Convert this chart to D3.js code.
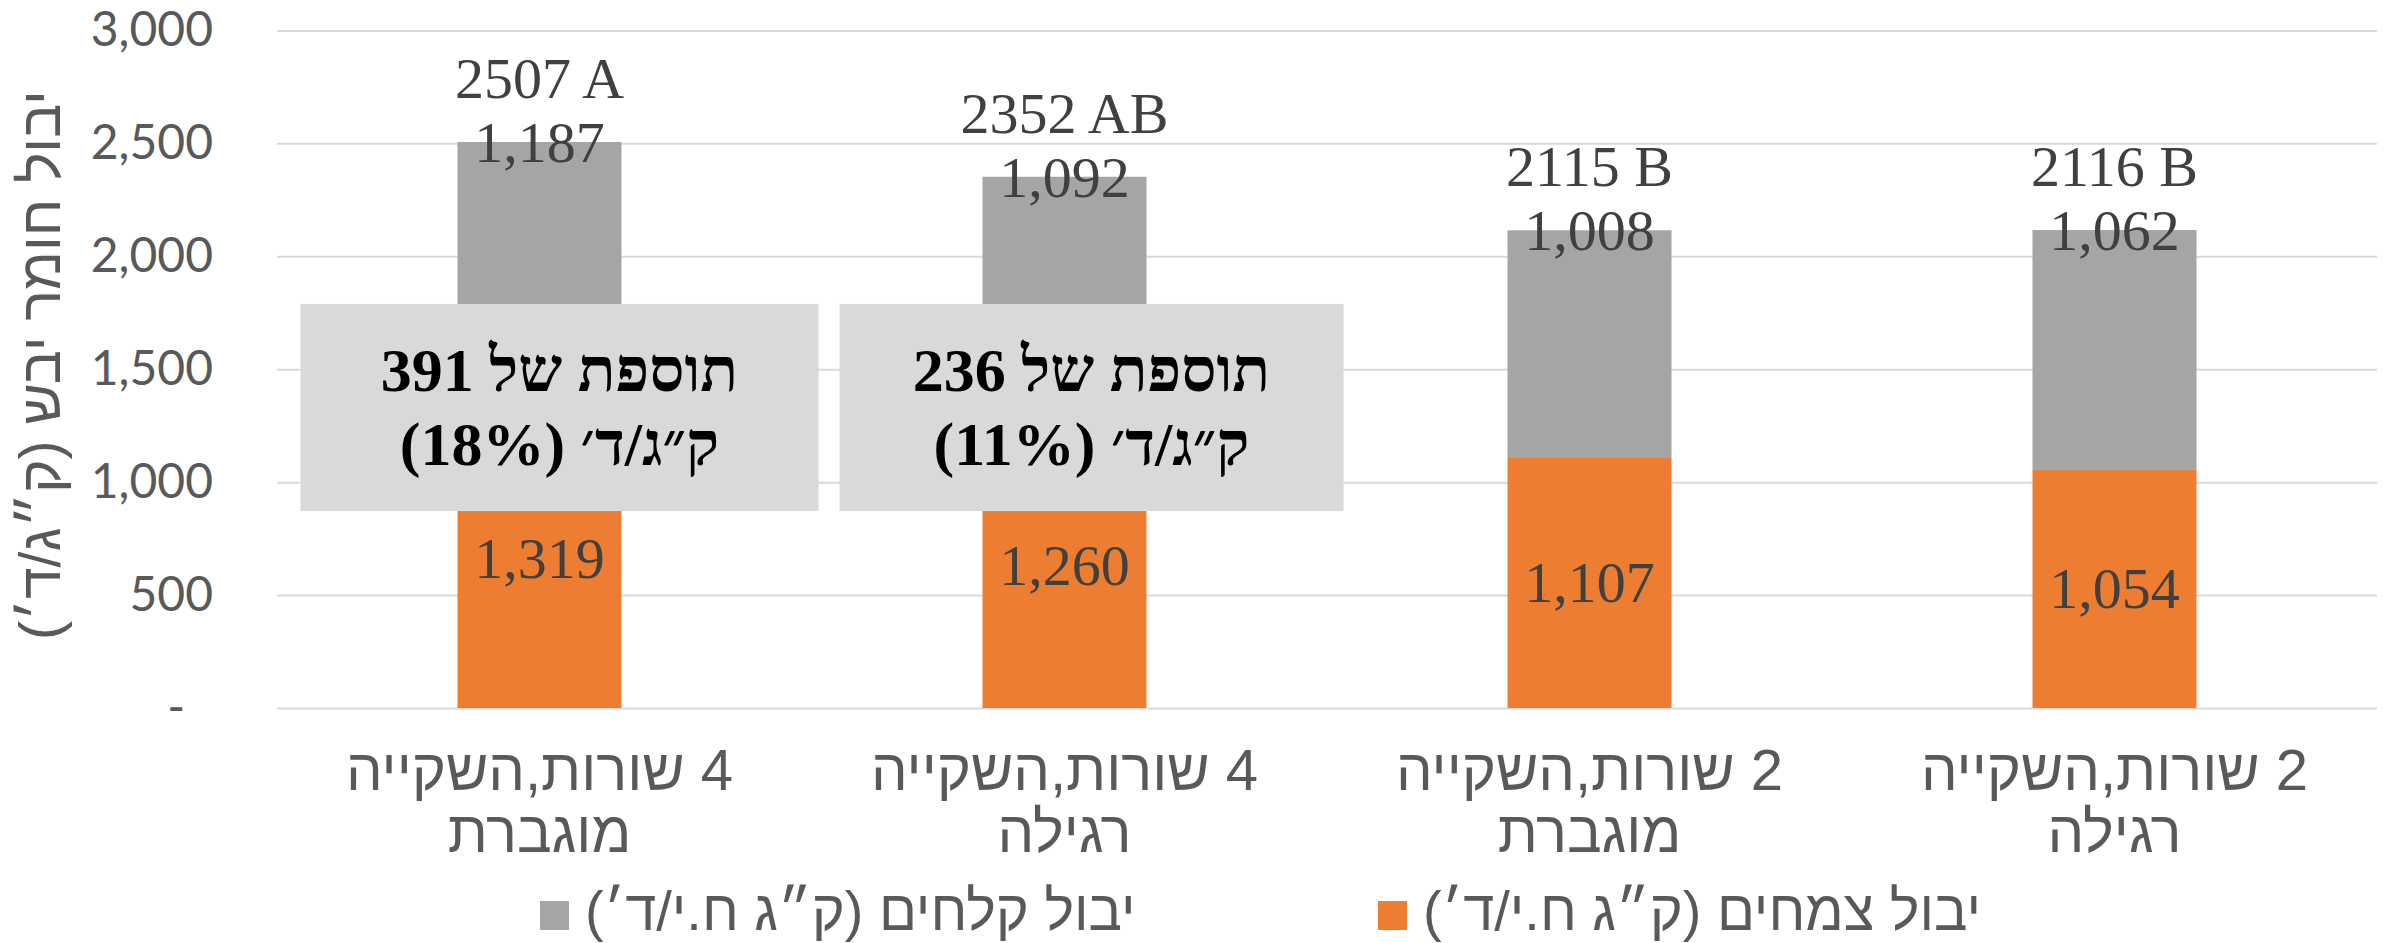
<!DOCTYPE html>
<html><head><meta charset="utf-8">
<script src="https://cdn.jsdelivr.net/npm/d3@7"></script>
<style>html,body{margin:0;padding:0;background:#fff;} svg{display:block;}</style>
</head><body>
<svg id="chart" width="2387" height="943"></svg>
<script>
const categories = ["4 שורות,השקייה\nמוגברת", "4 שורות,השקייה\nרגילה", "2 שורות,השקייה\nמוגברת", "2 שורות,השקייה\nרגילה"];
const plantYield = [1319, 1260, 1107, 1054];
const earYield = [1187, 1092, 1008, 1062];
const totals = [2507, 2352, 2115, 2116];
const groupLetters = ["A", "AB", "B", "B"];
const yTicks = [0, 500, 1000, 1500, 2000, 2500, 3000];
const seriesNames = ["יבול צמחים (ק״ג ח.י/ד׳)", "יבול קלחים (ק״ג ח.י/ד׳)"];
const annotationLines = [["תוספת של 391", "ק״ג/ד׳ (18%)"], ["תוספת של 236", "ק״ג/ד׳ (11%)"]];
const yTitle = "יבול חומר יבש (ק״ג/ד׳)";

const W = 2387, H = 943;
const plotLeft = 277, plotRight = 2377, plotTop = 30.4, plotBottom = 708;
const colors = {plants: "#ED7D31", ears: "#A5A5A5"};
const serif = "'Liberation Serif', 'Times New Roman', serif";
const sans = "'Liberation Sans', Arial, sans-serif";

const svg = d3.select("#chart");
svg.append("rect").attr("width", W).attr("height", H).attr("fill", "#fff");

const x = d3.scaleBand().domain(categories).range([plotLeft, plotRight])
  .paddingInner(0.6876).paddingOuter(0.3438);
const y = d3.scaleLinear().domain([0, 3000]).range([plotBottom, plotTop]);

// grid + y axis
const yAxis = d3.axisLeft(y).tickValues(yTicks)
  .tickSize(-(plotRight - plotLeft)).tickPadding(64)
  .tickFormat(d => d === 0 ? "-" : d3.format(",")(d));
const gy = svg.append("g").attr("transform", `translate(${plotLeft},0)`).call(yAxis);
gy.select(".domain").remove();
gy.selectAll(".tick line").attr("stroke", "#D9D9D9").attr("stroke-width", 2);
gy.selectAll(".tick text").attr("fill", "#595959")
  .style("font-family", "Lato, 'Open Sans', sans-serif").style("font-size", "48px")
  .attr("dx", d => d === 0 ? -28 : 0);

// stacked bars
const rows = categories.map((c, i) => ({cat: c, plants: plantYield[i], ears: earYield[i]}));
const stack = d3.stack().keys(["plants", "ears"])(rows);
svg.append("g").selectAll("g").data(stack).join("g")
  .attr("fill", s => colors[s.key])
  .selectAll("rect").data(s => s).join("rect")
  .attr("x", d => x(d.data.cat))
  .attr("width", x.bandwidth())
  .attr("y", d => y(d[1]))
  .attr("height", d => y(d[0]) - y(d[1]));

const fmt = d3.format(",");
const labelStyle = sel => sel.attr("text-anchor", "middle").attr("fill", "#404040")
  .style("font-family", serif).style("font-size", "58px");

// orange labels (centered in segment)
svg.append("g").selectAll("text").data(stack[0]).join("text").call(labelStyle)
  .attr("x", d => x(d.data.cat) + x.bandwidth() / 2)
  .attr("y", d => (y(d[0]) + y(d[1])) / 2 + 19)
  .text(d => fmt(d[1] - d[0]));
// gray labels (at top of bar)
svg.append("g").selectAll("text").data(stack[1]).join("text").call(labelStyle)
  .attr("x", d => x(d.data.cat) + x.bandwidth() / 2)
  .attr("y", d => y(d[1]) + 20)
  .text(d => fmt(d[1] - d[0]));
// totals
svg.append("g").selectAll("text").data(categories).join("text").call(labelStyle)
  .attr("x", c => x(c) + x.bandwidth() / 2)
  .attr("y", (c, i) => y(totals[i]) - 44)
  .text((c, i) => `${totals[i]} ${groupLetters[i]}`);

// annotation boxes
const boxSpecs = [{i: 0, left: -239, right: 279}, {i: 1, left: -225, right: 279}];
const boxTop = y(1789), boxBottom = y(872);
boxSpecs.forEach((b, k) => {
  const cx = x(categories[b.i]) + x.bandwidth() / 2;
  const g = svg.append("g");
  g.append("rect").attr("x", cx + b.left).attr("width", b.right - b.left)
    .attr("y", boxTop).attr("height", boxBottom - boxTop).attr("fill", "#D9D9D9");
  const mid = cx + (b.left + b.right) / 2;
  const yc = (boxTop + boxBottom) / 2;
  annotationLines[k].forEach((line, j) => {
    g.append("text").attr("x", mid).attr("y", yc - 16 + j * 74)
      .attr("text-anchor", "middle").attr("fill", "#000")
      .style("direction", "rtl").style("font-family", serif)
      .style("font-weight", "bold").style("font-size", "62px").text(line);
  });
});

// x labels
const gx = svg.append("g");
categories.forEach(c => {
  const lines = c.split("\n");
  lines.forEach((ln, j) => {
    gx.append("text").attr("x", x(c) + x.bandwidth() / 2).attr("y", 790 + j * 62)
      .attr("text-anchor", "middle").attr("fill", "#595959")
      .style("direction", "rtl").style("font-family", sans).style("font-size", "58px")
      .text(ln);
  });
});

// y title
svg.append("text").attr("transform", "translate(40,365) rotate(-90)")
  .attr("text-anchor", "middle").attr("dominant-baseline", "central")
  .attr("fill", "#595959").style("direction", "rtl")
  .style("font-family", sans).style("font-size", "57px").text(yTitle);

// legend
const legendItems = [{name: seriesNames[1], color: colors.ears, sx: 540}, {name: seriesNames[0], color: colors.plants, sx: 1378}];
const lg = svg.append("g");
legendItems.forEach(it => {
  lg.append("rect").attr("x", it.sx).attr("y", 901).attr("width", 29).attr("height", 29).attr("fill", it.color);
  const t = lg.append("text").attr("y", 930).attr("text-anchor", "middle").attr("fill", "#595959")
    .style("direction", "rtl").style("font-family", sans).style("font-size", "56px").text(it.name);
  const len = t.node().getComputedTextLength();
  t.attr("x", it.sx + 29 + 16 + len / 2);
});
</script>
</body></html>
